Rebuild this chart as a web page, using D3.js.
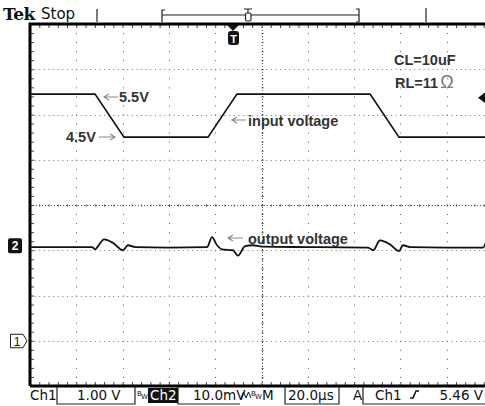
<!DOCTYPE html>
<html>
<head>
<meta charset="utf-8">
<script src="https://cdn.jsdelivr.net/npm/d3@7"></script>
<style>
  body { margin: 0; background: #fff; }
  svg { display: block; }
</style>
</head>
<body>
<div id="scope"></div>
<script>
// ch1 : input voltage (V) against time (us)
const inputTime = [0, 28.1, 40.6, 76.9, 89.4, 146.9, 159.4, 200];
const inputVolts = [5.45, 5.45, 4.5, 4.5, 5.45, 5.45, 4.5, 4.5];

// ch2 : output voltage ripple (mV) against time (us)
const outputTime = [0, 26.8, 28.1, 29.4, 32.0, 35.9, 40.2, 42.3, 45.4, 60, 76.5, 78.6, 80.8, 82.9, 87.7, 89.8, 92.9, 96.3, 100.2, 120, 146, 148.2, 151.2, 155.5, 159.4, 161.1, 164.1, 180, 195.7, 197.2];
const outputMv = [-0.2, -0.2, -0.7, 0, 1.5, 0.7, -0.9, 0.2, -0.2, -0.3, -0.2, 2.0, 0.2, -0.7, -0.9, -2.1, 0, 0.2, -0.1, -0.2, -0.3, -0.9, 1.3, 0.4, -1.1, 0.2, -0.2, -0.3, -0.3, 1.3];

// readouts
const statusLabels = ["Ch1", "1.00 V", "Ch2", "10.0mV", "M", "20.0\u00b5s", "A", "Ch1", "5.46 V"];
const notes = ["5.5V", "4.5V", "input voltage", "output voltage", "CL=10uF", "RL=11"];

const width = 485, height = 406;
const fLeft = 30, fRight = 493, fTop = 24, fBottom = 386;
const divsX = 10;

const svg = d3.select("#scope").append("svg")
  .attr("width", width)
  .attr("height", height)
  .style("font-family", "'Liberation Sans', Arial, sans-serif");

// time base 20us/div
const x = d3.scaleLinear().domain([0, 200]).range([fLeft, fRight]);
// divisions on screen
const yDiv = d3.scaleLinear().domain([-4, 4]).range([fBottom, fTop]);
// ch1 1.00V/div, ground 3 div below centre
const y1 = d3.scaleLinear().domain([-1, 7]).range([fBottom, fTop]);
// ch2 10.0mV/div, ground 0.9 div below centre
const ch2Off = 0.91;
const y2 = d3.scaleLinear().domain([(-4 + ch2Off) * 10, (4 + ch2Off) * 10]).range([fBottom, fTop]);

/* graticule dots */
const grid = svg.append("g").attr("stroke", "#555").attr("stroke-width", 1);
d3.range(1, divsX).forEach(function(i) {
  if (i == 5) return;
  const gx = Math.round(x(i * 20)) + 0.5;
  grid.append("line")
    .attr("x1", gx).attr("x2", gx)
    .attr("y1", fTop).attr("y2", fBottom)
    .attr("stroke-dasharray", "1,8.05");
});
d3.range(-3, 4).forEach(function(i) {
  if (i == 0) return;
  const gy = Math.round(yDiv(i)) + 0.5;
  grid.append("line")
    .attr("x1", fLeft).attr("x2", width)
    .attr("y1", gy).attr("y2", gy)
    .attr("stroke", "#777")
    .attr("stroke-dasharray", "1,3.63");
});

// centre cross with minor ticks
const cx = Math.round(x(100)) + 0.5, cy = Math.round(yDiv(0)) + 0.5;
grid.append("line").attr("x1", cx).attr("x2", cx).attr("y1", fTop).attr("y2", fBottom)
  .attr("stroke-dasharray", "1,2");
grid.append("line").attr("x1", fLeft).attr("x2", width).attr("y1", cy).attr("y2", cy)
  .attr("stroke-dasharray", "1,2");

const minorX = d3.range(0, 200.01, 4);
const minorY = d3.range(-4, 4.01, 0.2);
svg.append("g").attr("transform", "translate(0," + cy + ")")
  .call(d3.axisBottom(x).tickValues(minorX).tickSize(2).tickFormat(""))
  .call(g => g.select(".domain").remove())
  .call(g => g.selectAll("line").attr("transform", "translate(0,-1)").attr("stroke", "#444"));
svg.append("g").attr("transform", "translate(" + cx + ",0)")
  .call(d3.axisLeft(yDiv).tickValues(minorY).tickSize(2).tickFormat(""))
  .call(g => g.select(".domain").remove())
  .call(g => g.selectAll("line").attr("transform", "translate(1,0)").attr("stroke", "#444"));

// ticks along the frame
svg.append("g").attr("transform", "translate(0," + fTop + ")")
  .call(d3.axisBottom(x).tickValues(minorX).tickSize(4).tickFormat(""))
  .call(g => g.select(".domain").remove())
  .call(g => g.selectAll("line").attr("stroke", "#444"));
svg.append("g").attr("transform", "translate(0," + fBottom + ")")
  .call(d3.axisTop(x).tickValues(minorX).tickSize(4).tickFormat(""))
  .call(g => g.select(".domain").remove())
  .call(g => g.selectAll("line").attr("stroke", "#444"));
svg.append("g").attr("transform", "translate(" + fLeft + ",0)")
  .call(d3.axisRight(yDiv).tickValues(minorY).tickSize(4).tickFormat(""))
  .call(g => g.select(".domain").remove())
  .call(g => g.selectAll("line").attr("stroke", "#444"));

// frame
svg.append("path")
  .attr("d", "M" + fLeft + "," + fBottom + "V" + fTop + "H" + width + "M" + fLeft + "," + fBottom + "H" + width)
  .attr("fill", "none").attr("stroke", "#000").attr("stroke-width", 3);

/* traces */
svg.append("clipPath").attr("id", "screen")
  .append("rect").attr("x", fLeft).attr("y", fTop).attr("width", width - fLeft).attr("height", fBottom - fTop);

const traces = svg.append("g").attr("clip-path", "url(#screen)");

const inputLine = d3.line()
  .x(function(d, i) { return x(inputTime[i]); })
  .y(function(d) { return y1(d); });
traces.append("path")
  .attr("d", inputLine(inputVolts))
  .attr("fill", "none").attr("stroke", "#111").attr("stroke-width", 1.6);

const outputLine = d3.line()
  .x(function(d, i) { return x(outputTime[i]); })
  .y(function(d) { return y2(d); })
  .curve(d3.curveMonotoneX);
traces.append("path")
  .attr("d", outputLine(outputMv))
  .attr("fill", "none").attr("stroke", "#111").attr("stroke-width", 1.8);

/* annotations */
function arrow(x1, y, x2) {
  const dir = x2 > x1 ? 1 : -1;
  svg.append("path")
    .attr("d", "M" + x1 + "," + y + "H" + x2 + "M" + (x2 - dir * 5) + "," + (y - 3) + "L" + x2 + "," + y + "L" + (x2 - dir * 5) + "," + (y + 3))
    .attr("fill", "none").attr("stroke", "#8a8a8a").attr("stroke-width", 1.2);
}
function note(txt, tx, ty) {
  return svg.append("text").attr("x", tx).attr("y", ty)
    .attr("font-size", 14.5).attr("font-weight", "bold").attr("fill", "#333").text(txt);
}
arrow(118, 97, 104); note(notes[0], 119, 102);
note(notes[1], 66, 142); arrow(99, 137, 115);
arrow(246, 120, 232); note(notes[2], 248, 126);
arrow(243, 238, 228); note(notes[3], 248, 244);
note(notes[4], 394, 65);
const rl = note(notes[5], 395, 88);
rl.append("tspan").attr("font-weight", "normal").attr("font-size", 18).attr("fill", "#777").attr("dx", 2).text("\u03a9");

/* channel markers */
const m2 = svg.append("g").attr("transform", "translate(8," + (y2(0) - 8) + ")");
m2.append("rect").attr("width", 14).attr("height", 15).attr("rx", 2).attr("fill", "#111");
m2.append("text").attr("x", 7).attr("y", 12).attr("text-anchor", "middle")
  .attr("font-size", 12).attr("font-weight", "bold").attr("fill", "#fff").text("2");

const m1 = svg.append("g").attr("transform", "translate(10," + (y1(0) - 7) + ")");
m1.append("path").attr("d", "M0.5,0.5H13L17,7L13,14H0.5Z").attr("fill", "#fff").attr("stroke", "#222");
m1.append("text").attr("x", 7).attr("y", 12).attr("text-anchor", "middle")
  .attr("font-size", 12).attr("fill", "#111").text("1");

// trigger marker under the top frame
const tx = 233;
svg.append("path").attr("d", "M" + (tx - 6) + ",25H" + (tx + 6) + "L" + tx + ",31Z").attr("fill", "#111");
svg.append("rect").attr("x", tx - 5).attr("y", 31).attr("width", 11).attr("height", 14).attr("rx", 3).attr("fill", "#111");
svg.append("text").attr("x", tx + 0.5).attr("y", 43).attr("text-anchor", "middle")
  .attr("font-size", 11).attr("font-weight", "bold").attr("fill", "#fff").text("T");

// trigger level marker on the right
const tl = y1(5.46) + 4;
svg.append("path").attr("d", "M478," + tl + "L486," + (tl - 6) + "V" + (tl + 6) + "Z").attr("fill", "#111");

/* header */
svg.append("text").attr("x", 3).attr("y", 20).attr("font-family", "'DejaVu Serif', serif")
  .attr("font-size", 17).attr("font-weight", "bold").attr("letter-spacing", -0.5).attr("fill", "#111").text("Tek");
svg.append("text").attr("x", 41).attr("y", 19).attr("font-family", "'DejaVu Sans', sans-serif")
  .attr("font-size", 15).attr("fill", "#111").text("Stop");
const hdr = svg.append("g").attr("stroke", "#222").attr("fill", "none").attr("stroke-width", 1.2);
hdr.append("path").attr("d", "M97,9V22");
hdr.append("path").attr("d", "M165,10H162V22M162,15H359M356,9H359V22H356");
hdr.append("path").attr("d", "M426,8V22");
hdr.append("path").attr("d", "M244,9H252M248,9V13");
hdr.append("rect").attr("x", 245.5).attr("y", 13).attr("width", 5.5).attr("height", 8).attr("rx", 1.5).attr("fill", "#fff");

/* status bar */
const boxes = svg.append("g").attr("stroke", "#222").attr("fill", "none").attr("stroke-width", 1.2);
boxes.append("path").attr("d", "M57,387V404H135V387");
boxes.append("path").attr("d", "M178,387V404H240");
boxes.append("path").attr("d", "M285,387V404H339V387");
boxes.append("path").attr("d", "M363,387V404H486");
svg.append("rect").attr("x", 148).attr("y", 388).attr("width", 30).attr("height", 15).attr("fill", "#111");

const sb = svg.append("g").attr("font-family", "'DejaVu Sans', sans-serif").attr("font-size", 13.5).attr("fill", "#111");
sb.append("text").attr("x", 30).attr("y", 400).text(statusLabels[0]);
sb.append("text").attr("x", 77).attr("y", 400).text(statusLabels[1]);
sb.append("text").attr("x", 150).attr("y", 400).attr("fill", "#fff").text(statusLabels[2]);
sb.append("text").attr("x", 193).attr("y", 400).text(statusLabels[3]);
sb.append("text").attr("x", 262).attr("y", 400).text(statusLabels[4]);
sb.append("text").attr("x", 288).attr("y", 400).text(statusLabels[5]);
sb.append("text").attr("x", 353).attr("y", 400).text(statusLabels[6]);
sb.append("text").attr("x", 375).attr("y", 400).text(statusLabels[7]);
sb.append("text").attr("x", 483).attr("y", 400).attr("text-anchor", "end").text(statusLabels[8]);

// bandwidth marks and waveform glyphs
const small = svg.append("g").attr("font-family", "'DejaVu Sans', sans-serif").attr("font-size", 7).attr("fill", "#111");
small.append("text").attr("x", 137).attr("y", 396).text("B");
small.append("text").attr("x", 141).attr("y", 399).text("W");
small.append("text").attr("x", 251).attr("y", 396).text("B");
small.append("text").attr("x", 255).attr("y", 399).text("W");
svg.append("path").attr("d", "M241,398L243.5,392L246,398L248.5,392L251,398")
  .attr("fill", "none").attr("stroke", "#111").attr("stroke-width", 1);
svg.append("path").attr("d", "M410,398H413L416,391H419")
  .attr("fill", "none").attr("stroke", "#111").attr("stroke-width", 1.5);
</script>
</body>
</html>
